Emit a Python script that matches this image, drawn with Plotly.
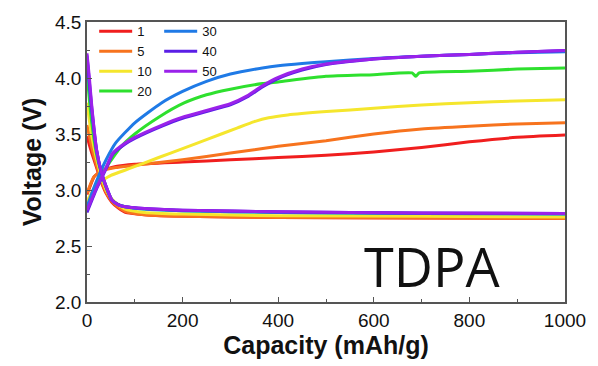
import plotly.graph_objects as go

# ---- data ----
cycles = ["1", "5", "10", "20", "30", "40", "50"]
colors = ["#f01e1e", "#f7731e", "#f5e62d", "#2ee02e", "#1f7ae6", "#5a1ee6", "#9a22ea"]

# charge curves (capacity mAh/g, voltage V)
chg_cap = {
    "1":  [0, 8, 15, 30, 60, 100, 200, 300, 400, 500, 600, 700, 800, 900, 1000],
    "5":  [0, 8, 15, 30, 60, 100, 200, 300, 400, 500, 600, 700, 800, 900, 1000],
    "10": [0, 10, 20, 50, 88, 150, 200, 250, 315, 350, 380, 420, 501, 600, 700, 800, 900, 1000],
    "20": [0, 20, 40, 70, 100, 150, 202, 250, 300, 367, 400, 500, 600, 680, 688, 695, 800, 900, 1000],
    "30": [0, 10, 20, 40, 60, 100, 155, 200, 250, 300, 367, 400, 450, 500, 600, 700, 800, 900, 1000],
    "40": [0, 20, 40, 54, 80, 100, 157, 200, 250, 300, 335, 367, 400, 450, 500, 600, 700, 800, 900, 1000],
    "50": [0, 20, 40, 54, 80, 100, 157, 200, 250, 300, 335, 367, 400, 450, 500, 600, 700, 800, 900, 1000],
}
chg_v = {
    "1":  [2.96, 3.05, 3.12, 3.17, 3.21, 3.23, 3.25, 3.27, 3.29, 3.31, 3.34, 3.38, 3.43, 3.47, 3.49],
    "5":  [2.97, 3.06, 3.12, 3.17, 3.20, 3.22, 3.27, 3.33, 3.39, 3.44, 3.50, 3.545, 3.57, 3.59, 3.60],
    "10": [2.90, 2.98, 3.05, 3.13, 3.19, 3.29, 3.37, 3.45, 3.555, 3.61, 3.645, 3.67, 3.70, 3.73, 3.76, 3.78, 3.795, 3.805],
    "20": [2.85, 3.03, 3.20, 3.38, 3.50, 3.65, 3.775, 3.85, 3.90, 3.95, 3.965, 4.015, 4.03, 4.045, 4.015, 4.045, 4.06, 4.08, 4.09],
    "30": [2.85, 2.97, 3.08, 3.27, 3.42, 3.60, 3.775, 3.88, 3.97, 4.035, 4.09, 4.11, 4.13, 4.145, 4.175, 4.195, 4.21, 4.225, 4.235],
    "40": [2.80, 3.01, 3.19, 3.32, 3.41, 3.46, 3.57, 3.64, 3.70, 3.76, 3.83, 3.92, 3.995, 4.07, 4.12, 4.17, 4.195, 4.21, 4.23, 4.245],
    "50": [2.82, 3.02, 3.20, 3.33, 3.42, 3.47, 3.58, 3.65, 3.71, 3.77, 3.84, 3.93, 4.005, 4.08, 4.125, 4.17, 4.195, 4.21, 4.23, 4.245],
}

# discharge curves
dis_cap = [0, 5, 10, 20, 30, 40, 52, 65, 80, 120, 200, 400, 700, 1000]
dis_v = {
    "1":  [3.48, 3.40, 3.33, 3.20, 3.07, 2.97, 2.89, 2.84, 2.80, 2.78, 2.765, 2.755, 2.75, 2.745],
    "5":  [3.58, 3.48, 3.38, 3.22, 3.08, 2.98, 2.90, 2.85, 2.81, 2.78, 2.765, 2.755, 2.75, 2.745],
    "10": [3.78, 3.62, 3.48, 3.28, 3.12, 3.00, 2.92, 2.87, 2.83, 2.80, 2.785, 2.77, 2.765, 2.76],
    "20": [4.05, 3.80, 3.60, 3.32, 3.15, 3.02, 2.91, 2.87, 2.85, 2.83, 2.815, 2.80, 2.79, 2.785],
    "30": [4.18, 3.92, 3.70, 3.35, 3.16, 3.03, 2.91, 2.87, 2.85, 2.83, 2.815, 2.80, 2.79, 2.785],
    "40": [4.20, 3.96, 3.73, 3.36, 3.16, 3.03, 2.91, 2.87, 2.85, 2.835, 2.82, 2.805, 2.795, 2.79],
    "50": [4.22, 4.00, 3.75, 3.36, 3.16, 3.03, 2.91, 2.87, 2.85, 2.835, 2.82, 2.805, 2.795, 2.79],
}

x_ticks = [0, 200, 400, 600, 800, 1000]
y_ticks = [2.0, 2.5, 3.0, 3.5, 4.0, 4.5]
label_text = "TDPA"

fig = go.Figure()
for name, col in zip(cycles, colors):
    lg = "legend" if name in ["1", "5", "10", "20"] else "legend2"
    fig.add_trace(go.Scatter(
        x=dis_cap, y=dis_v[name], mode="lines", name=name,
        line=dict(color=col, width=3, shape="spline", smoothing=0.5),
        showlegend=False, legend=lg, hoverinfo="skip"))
    fig.add_trace(go.Scatter(
        x=chg_cap[name], y=chg_v[name], mode="lines", name=name,
        line=dict(color=col, width=3, shape="spline", smoothing=0.5),
        showlegend=True, legend=lg))

axis_common = dict(
    showline=True, linecolor="#555555", linewidth=1.5, mirror=True,
    ticks="inside", ticklen=5, tickwidth=1.2, tickcolor="#555555",
    showgrid=False, zeroline=False,
    tickfont=dict(family="Liberation Sans, Arial", size=19, color="#111111"),
)

fig.update_xaxes(
    range=[0, 1000], tickvals=x_ticks, ticktext=[str(v) for v in x_ticks],
    minor=dict(ticks="inside", ticklen=3, tickcolor="#555555", dtick=100, showgrid=False),
    title=dict(text="<b>Capacity (mAh/g)</b>", standoff=0,
               font=dict(family="Liberation Sans, Arial", size=25, color="#111111")),
    **axis_common)
fig.update_yaxes(
    range=[2.0, 4.5], tickvals=y_ticks, ticktext=[f"{v:.1f}" for v in y_ticks],
    minor=dict(ticks="inside", ticklen=3, tickcolor="#555555", dtick=0.25, showgrid=False),
    title=dict(text="<b>Voltage (V)</b>", standoff=6,
               font=dict(family="Liberation Sans, Arial", size=25, color="#111111")),
    **axis_common)

legend_font = dict(family="Liberation Sans, Arial", size=13, color="#111111")
fig.update_layout(
    width=598, height=366,
    margin=dict(l=87, r=26, t=17, b=64),
    plot_bgcolor="white", paper_bgcolor="white",
    legend=dict(x=0.015, y=1.02, xanchor="left", yanchor="top",
                bgcolor="rgba(0,0,0,0)", font=legend_font,
                tracegroupgap=0, itemwidth=33),
    legend2=dict(x=0.151, y=1.02, xanchor="left", yanchor="top",
                 bgcolor="rgba(0,0,0,0)", font=legend_font,
                 tracegroupgap=0, itemwidth=33),
    annotations=[dict(
        x=0.7225, y=0.127, xref="paper", yref="paper", text=label_text,
        showarrow=False, xanchor="center", yanchor="middle",
        font=dict(family="Open Sans", size=54, color="#111111"))],
)

fig.write_html("out.html")
